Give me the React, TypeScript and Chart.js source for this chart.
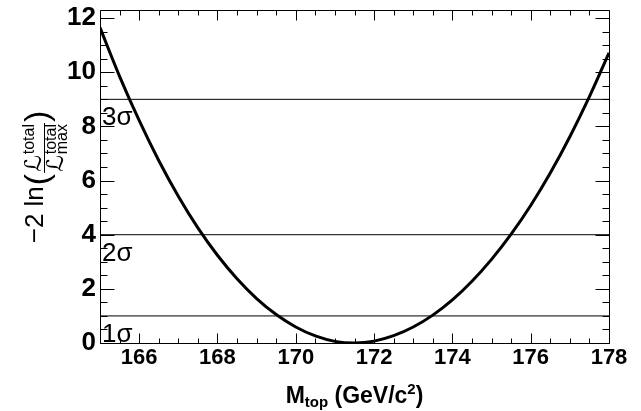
import React, { useEffect, useRef } from 'react';
import { Chart, registerables } from 'chart.js';

Chart.register(...registerables);

// ---- Data ----
const massValues = [
  165, 165.5, 166, 166.5, 167, 167.5, 168, 168.5, 169, 169.5, 170, 170.5, 171,
  171.5, 172, 172.5, 173, 173.5, 174, 174.5, 175, 175.5, 176, 176.5, 177, 177.5, 178,
];
const deltaLogL = [
  11.65, 9.85, 8.22, 6.74, 5.42, 4.25, 3.24, 2.37, 1.64, 1.05, 0.59, 0.26, 0.06,
  0.0, 0.07, 0.27, 0.59, 1.03, 1.59, 2.28, 3.09, 4.02, 5.08, 6.28, 7.62, 9.1, 10.72,
];
const sigmaLevels = [1, 4, 9];
const sigmaLabels = ['1σ', '2σ', '3σ'];
const xTickLabels = [166, 168, 170, 172, 174, 176, 178];
const yTickLabels = [0, 2, 4, 6, 8, 10, 12];
const X_MIN = 165;
const X_MAX = 178;
const Y_MIN = 0;
const Y_MAX = 12.3;

const FONT = '"Liberation Sans", Arial, Helvetica, sans-serif';
const SCRIPT_FONT = '"DejaVu Sans", "Liberation Sans", sans-serif';

const decorPlugin = {
  id: 'decor',
  afterDraw(chart: any) {
    const { ctx, chartArea: a, scales } = chart;
    const xs = scales.x;
    const ys = scales.y;
    ctx.save();
    ctx.strokeStyle = '#000';
    ctx.fillStyle = '#000';
    ctx.lineWidth = 1;

    // frame
    const L = Math.round(a.left) + 0.5;
    const R = Math.round(a.right) + 0.5;
    const T = Math.round(a.top) + 0.5;
    const B = Math.round(a.bottom) + 0.5;
    ctx.beginPath();
    ctx.rect(L, T, R - L, B - T);
    ctx.stroke();

    // x ticks (inside, bottom and top)
    ctx.beginPath();
    for (let v = X_MIN; v <= X_MAX + 1e-9; v += 0.5) {
      const px = Math.round(xs.getPixelForValue(v)) + 0.5;
      const major = Math.abs(v % 2) < 1e-9;
      const len = major ? 10 : 5;
      ctx.moveTo(px, B);
      ctx.lineTo(px, B - len);
      ctx.moveTo(px, T);
      ctx.lineTo(px, T + len);
    }
    // y ticks (inside, left and right)
    for (let v = Y_MIN; v <= Y_MAX + 1e-9; v += 0.5) {
      const py = Math.round(ys.getPixelForValue(v)) + 0.5;
      const major = Math.abs(v % 2) < 1e-9;
      const len = major ? 14 : 7;
      ctx.moveTo(L, py);
      ctx.lineTo(L + len, py);
      ctx.moveTo(R, py);
      ctx.lineTo(R - len, py);
    }
    ctx.stroke();

    // sigma labels
    ctx.font = `26px ${FONT}`;
    ctx.textAlign = 'left';
    ctx.textBaseline = 'alphabetic';
    sigmaLevels.forEach((lvl, i) => {
      const y = ys.getPixelForValue(lvl - 1) - 1;
      ctx.fillText(sigmaLabels[i], a.left + 2, y);
    });

    // x axis title: M_top (GeV/c^2)
    const mainF = `bold 23px ${FONT}`;
    const subF = `bold 15px ${FONT}`;
    const parts: [string, string, number][] = [
      ['M', mainF, 0],
      ['top', subF, 4],
      [' (GeV/c', mainF, 0],
      ['2', subF, -9],
      [')', mainF, 0],
    ];
    let total = 0;
    parts.forEach(([t, f]) => {
      ctx.font = f;
      total += ctx.measureText(t).width;
    });
    let cx = (a.left + a.right) / 2 - total / 2;
    const by = 403;
    parts.forEach(([t, f, dy]) => {
      ctx.font = f;
      ctx.fillText(t, cx, by + dy);
      cx += ctx.measureText(t).width;
    });

    // y axis title: -2 ln( L^total / L^total_max )
    ctx.save();
    const f1 = `26px ${FONT}`;
    const fp = `34px ${FONT}`;
    const fL = `23px ${SCRIPT_FONT}`;
    const fs = `16px ${FONT}`;
    const t1 = '\u22122 ln';
    ctx.font = f1;
    const w1 = ctx.measureText(t1).width;
    ctx.font = fp;
    const wp = ctx.measureText('(').width;
    ctx.font = fL;
    const wL = ctx.measureText('ℒ').width;
    ctx.font = fs;
    const wT = ctx.measureText('total').width;
    const fw = wL + 1 + wT + 2;
    const totalW = w1 + 1 + wp + 1 + fw + 1 + wp;
    const centerY = 177;
    ctx.translate(43, centerY + totalW / 2);
    ctx.rotate(-Math.PI / 2);
    let rx = 0;
    ctx.font = f1;
    ctx.fillText(t1, rx, 0);
    rx += w1 + 1;
    ctx.font = fp;
    ctx.fillText('(', rx, 5);
    rx += wp + 1;
    const fx = rx;
    ctx.font = fL;
    ctx.fillText('ℒ', fx + 1, -2);
    ctx.fillText('ℒ', fx + 1, 20);
    ctx.font = fs;
    ctx.fillText('total', fx + 1 + wL + 1, -9);
    ctx.fillText('total', fx + 1 + wL + 1, 13);
    ctx.fillText('max', fx + 1 + wL + 1, 24);
    ctx.fillRect(fx, 1, fw, 1);
    rx = fx + fw + 1;
    ctx.font = fp;
    ctx.fillText(')', rx, 5);
    ctx.restore();

    ctx.restore();
  },
};

export default function App() {
  const canvasRef = useRef<HTMLCanvasElement | null>(null);

  useEffect(() => {
    document.body.style.margin = '0';
    const canvas = canvasRef.current;
    if (!canvas) return;

    const curve = massValues.map((m, i) => ({ x: m, y: deltaLogL[i] }));
    const levelSets = sigmaLevels.map((lvl) => ({
      data: [
        { x: X_MIN, y: lvl },
        { x: X_MAX, y: lvl },
      ],
      borderColor: '#000',
      borderWidth: 1,
      pointRadius: 0,
      fill: false,
      tension: 0,
    }));

    const chart = new Chart(canvas, {
      type: 'line',
      data: {
        datasets: [
          ...levelSets,
          {
            data: curve,
            borderColor: '#000',
            borderWidth: 3,
            pointRadius: 0,
            fill: false,
            tension: 0.4,
          },
        ],
      },
      options: {
        animation: false,
        responsive: false,
        maintainAspectRatio: false,
        devicePixelRatio: 1,
        layout: { padding: { top: 10, right: 32, left: 0, bottom: 0 } },
        plugins: {
          legend: { display: false },
          tooltip: { enabled: false },
          title: { display: false },
        },
        scales: {
          x: {
            type: 'linear',
            min: X_MIN,
            max: X_MAX,
            grid: { display: false, drawTicks: false },
            border: { display: false },
            afterBuildTicks: (s: any) => {
              s.ticks = xTickLabels.map((v) => ({ value: v }));
            },
            afterFit: (s: any) => {
              s.height = 68;
              s.paddingLeft = 0;
              s.paddingRight = 0;
            },
            ticks: {
              color: '#000',
              font: { family: FONT, size: 22, weight: 'bold' },
              padding: 2,
              maxRotation: 0,
              autoSkip: false,
              callback: (v: any) => String(v),
            },
          },
          y: {
            type: 'linear',
            min: Y_MIN,
            max: Y_MAX,
            grid: { display: false, drawTicks: false },
            border: { display: false },
            afterBuildTicks: (s: any) => {
              s.ticks = yTickLabels.map((v) => ({ value: v }));
            },
            afterFit: (s: any) => {
              s.width = 100;
              s.paddingTop = 0;
              s.paddingBottom = 0;
            },
            ticks: {
              color: '#000',
              font: { family: FONT, size: 26, weight: 'bold' },
              padding: 4,
              autoSkip: false,
              callback: (v: any) => String(v),
            },
          },
        },
      },
      plugins: [decorPlugin],
    } as any);

    return () => {
      chart.destroy();
    };
  }, []);

  return (
    <div style={{ width: 641, height: 411, position: 'relative', background: '#fff' }}>
      <canvas ref={canvasRef} width={641} height={411} style={{ display: 'block' }} />
    </div>
  );
}
